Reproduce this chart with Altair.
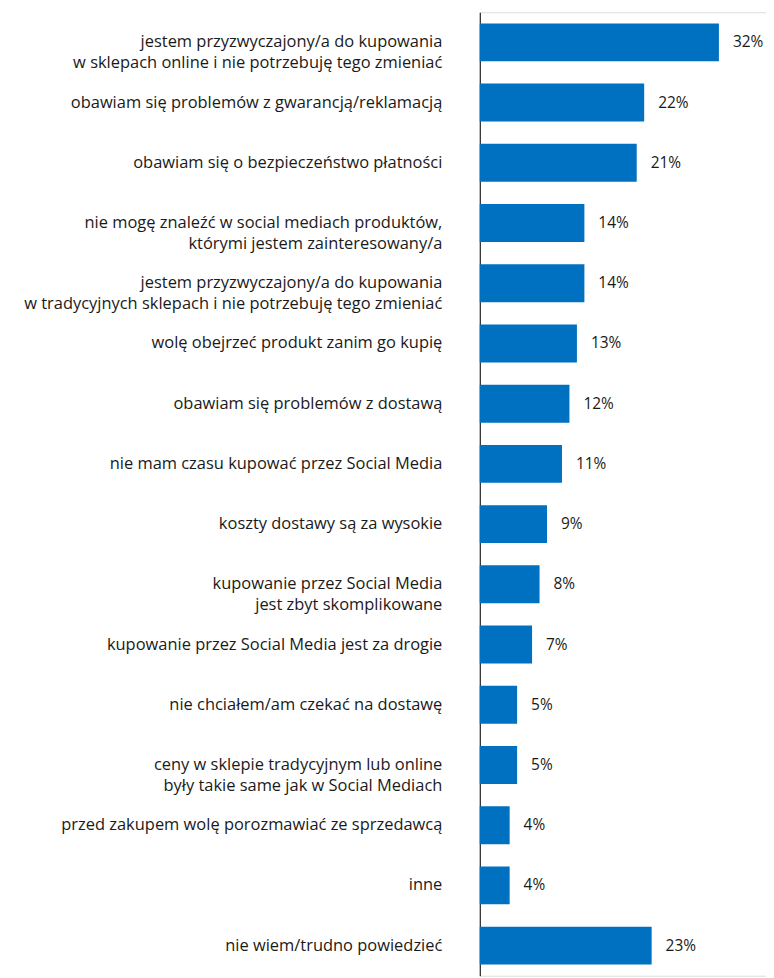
import altair as alt
import pandas as pd

categories = [
    "jestem przyzwyczajony/a do kupowania|w sklepach online i nie potrzebuję tego zmieniać",
    "obawiam się problemów z gwarancją/reklamacją",
    "obawiam się o bezpieczeństwo płatności",
    "nie mogę znaleźć w social mediach produktów,|którymi jestem zainteresowany/a",
    "jestem przyzwyczajony/a do kupowania|w tradycyjnych sklepach i nie potrzebuję tego zmieniać",
    "wolę obejrzeć produkt zanim go kupię",
    "obawiam się problemów z dostawą",
    "nie mam czasu kupować przez Social Media",
    "koszty dostawy są za wysokie",
    "kupowanie przez Social Media|jest zbyt skomplikowane",
    "kupowanie przez Social Media jest za drogie",
    "nie chciałem/am czekać na dostawę",
    "ceny w sklepie tradycyjnym lub online|były takie same jak w Social Mediach",
    "przed zakupem wolę porozmawiać ze sprzedawcą",
    "inne",
    "nie wiem/trudno powiedzieć",
]
values = [32, 22, 21, 14, 14, 13, 12, 11, 9, 8, 7, 5, 5, 4, 4, 23]
value_labels = ["32%", "22%", "21%", "14%", "14%", "13%", "12%", "11%", "9%", "8%", "7%", "5%", "5%", "4%", "4%", "23%"]

df = pd.DataFrame({"cat": categories, "val": values, "lab": value_labels})

FONT = "Open Sans"
TXT = "#1a1a1a"

y_enc = alt.Y(
    "cat:N",
    sort=categories,
    title=None,
    scale=alt.Scale(paddingInner=0.37, paddingOuter=0.185),
    axis=alt.Axis(
        labelExpr="split(datum.label, '|')",
        labelFont=FONT,
        labelFontSize=16.5,
        labelColor=TXT,
        labelPadding=38,
        labelLineHeight=21,
        labelLimit=700,
        ticks=False,
        domainColor="#000000",
        domainWidth=1,
        grid=False,
    ),
)
x_enc = alt.X("val:Q", title=None, scale=alt.Scale(domain=[0, 38.3], nice=False, zero=True), axis=None)

bars = alt.Chart(df).mark_bar(color="#0070C0").encode(x=x_enc, y=y_enc)
text = alt.Chart(df).mark_text(
    align="left", baseline="middle", dx=14, font=FONT, fontSize=15.5, color=TXT
).encode(x=x_enc, y=y_enc, text="lab:N")

chart = (
    alt.layer(bars, text)
    .properties(width=287, height=966, padding={"left": 15, "top": 3, "right": 0, "bottom": 0})
    .configure_view(stroke=None)
    .configure(background="white")
)

chart.save("out.html", embed_options={"renderer": "svg", "actions": False})
